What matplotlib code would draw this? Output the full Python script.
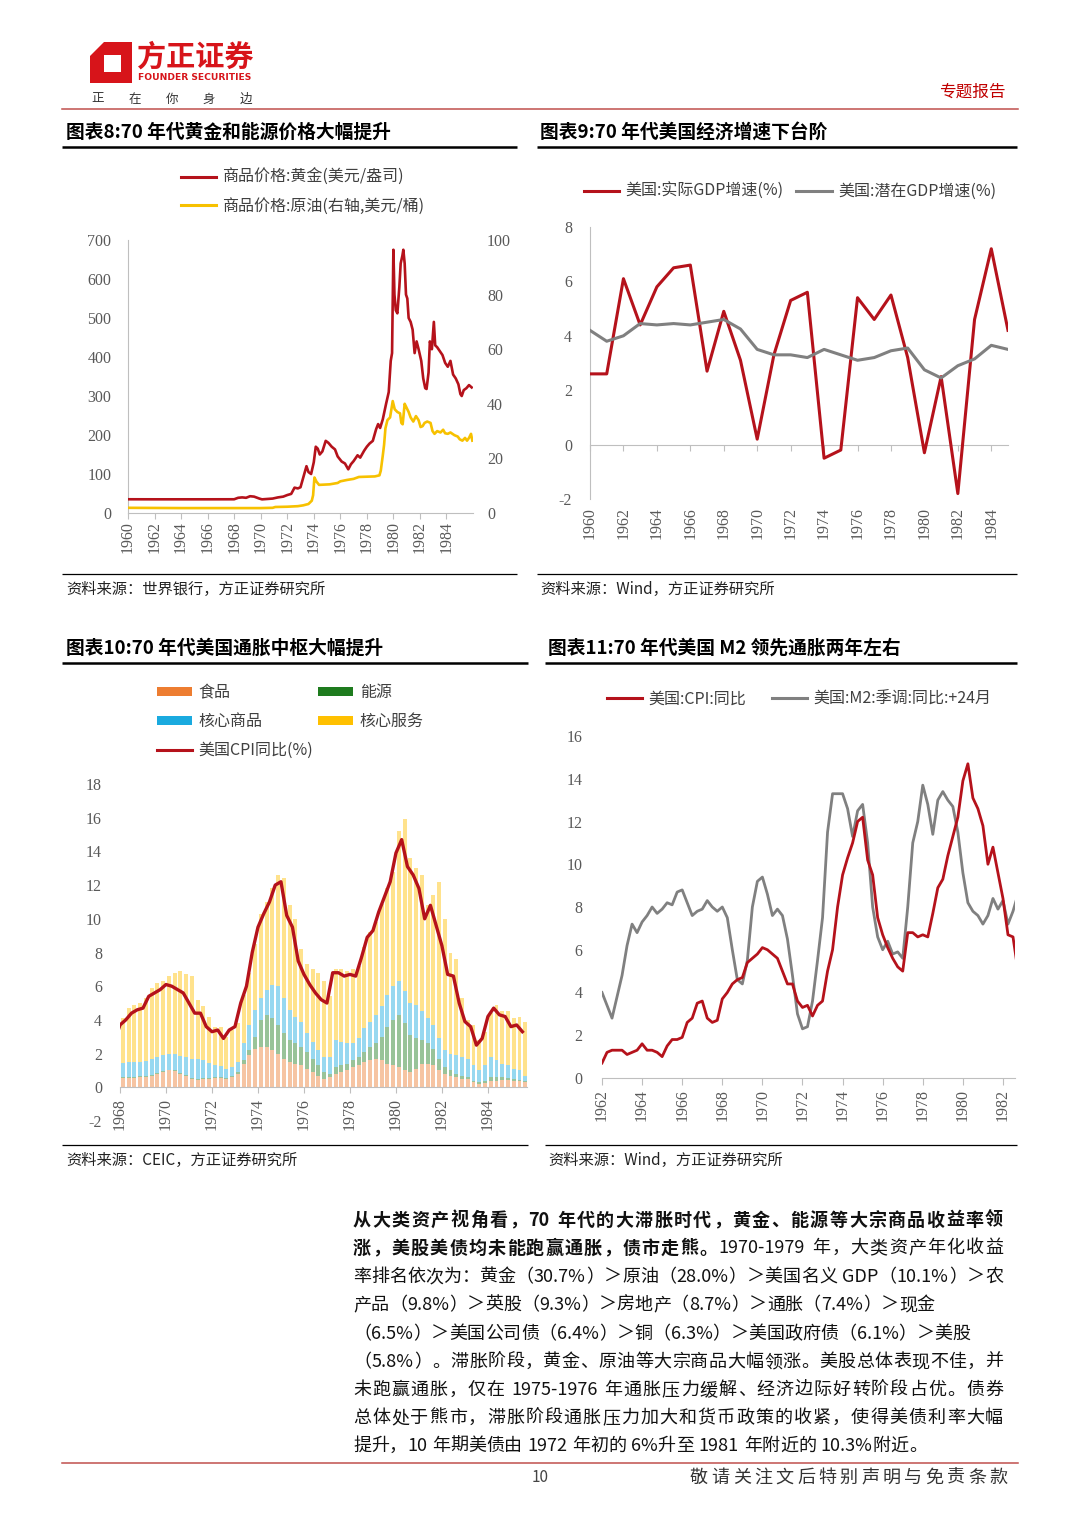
import numpy as np
import matplotlib
matplotlib.use('Agg')
import matplotlib.pyplot as plt
from matplotlib.patches import Polygon, Rectangle, Patch
from matplotlib.lines import Line2D

plt.rcParams['font.family'] = ['Noto Sans CJK SC', 'DejaVu Sans']
plt.rcParams['axes.unicode_minus'] = False

# ---------------- data ----------------
# chart 8: gold (USD/oz) and crude oil (USD/bbl), decimal years
gold_t = [1960.0, 1962.0, 1964.0, 1966.0, 1968.0, 1968.3, 1968.6, 1968.9, 1969.2, 1969.5,
          1969.9, 1970.1, 1970.5, 1970.9, 1971.3, 1971.7, 1972.0, 1972.3, 1972.55, 1972.8,
          1973.0, 1973.2, 1973.45, 1973.6, 1973.8, 1974.0, 1974.15, 1974.3, 1974.45, 1974.65,
          1974.9, 1975.1, 1975.35, 1975.6, 1975.8, 1976.1, 1976.35, 1976.6, 1976.8, 1977.0,
          1977.3, 1977.5, 1977.8, 1978.0, 1978.2, 1978.45, 1978.7, 1978.85, 1979.0, 1979.2,
          1979.45, 1979.65, 1979.8, 1979.9, 1980.0, 1980.08, 1980.18, 1980.3, 1980.45, 1980.55,
          1980.68, 1980.75, 1980.85, 1980.95, 1981.05, 1981.15, 1981.3, 1981.45, 1981.6, 1981.75,
          1981.9, 1982.1, 1982.25, 1982.4, 1982.5, 1982.65, 1982.75, 1982.9, 1983.05, 1983.15,
          1983.3, 1983.5, 1983.7, 1983.9, 1984.1, 1984.3, 1984.5, 1984.7, 1984.9, 1985.05,
          1985.15, 1985.3, 1985.5, 1985.7, 1985.9]
gold_v = [35.2, 35.1, 35.1, 35.1, 35.2, 39, 40, 39, 43, 42,
          37, 35, 36, 37, 40, 42, 46, 49, 65, 63,
          66, 90, 120, 105, 100, 130, 170, 165, 150, 158,
          185, 180, 170, 163, 145, 132, 127, 112, 125, 133,
          148, 142, 160, 170, 178, 185, 215, 228, 218, 240,
          280, 310, 390, 410, 675, 560, 520, 512, 580, 640,
          660, 675, 640, 560, 550, 500, 490, 470, 410, 440,
          420, 390, 345, 320, 318, 360, 440, 420, 490, 430,
          425, 415, 405, 385, 375, 390, 355, 345, 330, 305,
          300, 315, 320, 328, 322]
oil_t = [1960.0, 1964.0, 1968.0, 1970.0, 1970.9, 1971.1, 1972.0, 1972.8, 1973.2, 1973.6,
         1973.85, 1973.95, 1974.05, 1974.2, 1974.4, 1974.8, 1975.2, 1975.8, 1976.0, 1976.5,
         1977.0, 1977.4, 1978.0, 1978.6, 1978.95, 1979.05, 1979.2, 1979.3, 1979.4, 1979.55,
         1979.75, 1979.95, 1980.1, 1980.3, 1980.5, 1980.6, 1980.7, 1980.85, 1980.95, 1981.15,
         1981.3, 1981.5, 1981.7, 1981.9, 1982.05, 1982.2, 1982.35, 1982.55, 1982.8, 1982.95,
         1983.1, 1983.3, 1983.55, 1983.75, 1983.9, 1984.1, 1984.3, 1984.6, 1984.85, 1985.0,
         1985.2, 1985.4, 1985.55, 1985.7, 1985.85, 1985.95]
oil_v = [1.9, 1.8, 1.8, 1.8, 1.9, 2.2, 2.3, 2.5, 2.8, 3.3,
         4.5, 6.5, 13.0, 11.5, 10.3, 10.4, 10.5, 11.0, 11.6, 12.1,
         12.5, 13.2, 13.3, 13.4, 13.8, 15.5, 21, 25, 31, 34,
         35, 41, 38, 37, 36.5, 33, 32.5, 40, 39, 37,
         35, 33.5, 35.5, 34, 31.5, 31.8, 33, 33.5, 33, 30,
         29, 30, 29.5, 30.5, 29.2, 29, 29.5, 28.5, 28, 27,
         26.5, 27.5, 26.5, 27.5, 29, 26.5]

# chart 9: annual GDP growth (%)
gdp_years = list(range(1960, 1986))
gdp_real = [2.6, 2.6, 6.1, 4.4, 5.8, 6.5, 6.6, 2.7, 4.9, 3.1, 0.2, 3.3, 5.3,
            5.6, -0.5, -0.2, 5.4, 4.6, 5.5, 3.2, -0.3, 2.5, -1.8, 4.6, 7.2, 4.2]
gdp_potential = [4.2, 3.8, 4.0, 4.45, 4.4, 4.45, 4.4, 4.5, 4.6, 4.25, 3.5, 3.3, 3.3,
                 3.2, 3.5, 3.3, 3.1, 3.2, 3.45, 3.55, 2.75, 2.45, 2.9, 3.15, 3.65, 3.5]

# US CPI yoy (%), quarterly from 1962Q1
cpi_start = 1962
cpi_yoy = [0.7, 1.2, 1.3, 1.3, 1.3, 1.1, 1.2, 1.3, 1.6, 1.3, 1.3, 1.2,
           1.0, 1.5, 1.8, 1.8, 1.9, 2.6, 2.8, 3.5, 3.6, 2.8, 2.6, 2.7,
           3.7, 4.0, 4.4, 4.6, 4.7, 5.4, 5.6, 5.8, 6.1, 6.0, 5.8, 5.6,
           5.0, 4.4, 4.4, 3.6, 3.3, 3.4, 2.9, 3.4, 3.6, 5.0, 6.0, 8.0,
           9.5, 10.3, 11.0, 12.0, 12.2, 10.2, 9.5, 7.5, 6.7, 6.1, 5.6, 5.2,
           5.0, 6.8, 6.8, 6.6, 6.7, 6.6, 7.7, 8.9, 9.3, 10.4, 11.3, 12.2,
           13.9, 14.7, 13.1, 12.6, 11.8, 10.0, 10.8, 9.6, 8.4, 6.7, 6.6, 5.0,
           3.9, 3.6, 2.5, 2.9, 4.2, 4.7, 4.3, 4.2, 3.6, 3.7, 3.3]

# US M2 yoy (%), shifted +24 months, quarterly from 1962Q1
m2_yoy = [4.0, 3.4, 2.8, 3.8, 4.8, 6.2, 7.2, 6.8, 7.3, 7.6, 8.0, 7.7,
          7.9, 8.2, 8.1, 8.7, 8.8, 8.2, 7.6, 7.8, 7.9, 8.3, 8.0, 7.8,
          8.0, 7.5, 6.0, 4.6, 4.4, 5.5, 8.0, 9.2, 9.4, 8.6, 7.6, 7.9,
          7.6, 6.5, 4.8, 3.0, 2.3, 2.4, 3.6, 5.5, 7.5, 11.5, 13.3, 13.3,
          13.3, 12.6, 11.3, 12.5, 12.8, 11.0, 8.0, 6.6, 6.0, 6.4, 5.8, 5.9,
          5.6, 8.0, 11.0, 12.0, 13.7, 12.8, 11.4, 13.0, 13.4, 13.0, 12.7, 11.5,
          9.6, 8.2, 7.8, 7.6, 7.2, 7.6, 8.4, 7.9, 8.3, 7.2, 7.8, 8.6]

# chart 10: CPI contributions (ppt), quarterly from 1968Q1
comp_start = 1968
cpi_food = [0.55, 0.55, 0.55, 0.6, 0.6, 0.7, 0.8, 0.9, 1.0, 0.95, 0.8, 0.7,
            0.5, 0.45, 0.5, 0.5, 0.55, 0.55, 0.5, 0.6, 0.8, 1.4, 1.9, 2.3,
            2.4, 2.4, 2.2, 2.0, 1.7, 1.5, 1.4, 1.3, 1.1, 0.9, 0.7, 0.5,
            0.6, 0.8, 0.9, 1.0, 1.2, 1.3, 1.5, 1.6, 1.7, 1.6, 1.4, 1.3,
            1.2, 1.0, 0.9, 1.1, 1.4, 1.4, 1.3, 1.0, 0.8, 0.7, 0.6, 0.5,
            0.5, 0.3, 0.2, 0.25, 0.35, 0.4, 0.45, 0.45, 0.4, 0.35, 0.3]
cpi_energy = [0.05, 0.05, 0.05, 0.05, 0.05, 0.05, 0.05, 0.05, 0.05, 0.05, 0.05, 0.05,
              0.05, 0.05, 0.05, 0.05, 0.05, 0.05, 0.05, 0.05, 0.1, 0.2, 0.3, 0.7,
              1.6, 1.9, 1.9, 1.7, 1.5, 1.3, 1.2, 1.1, 1.0, 0.8, 0.6, 0.4,
              0.2, 0.4, 0.4, 0.4, 0.4, 0.5, 0.6, 0.8, 0.9, 1.4, 2.2, 2.7,
              3.1, 2.8, 2.2, 1.8, 1.4, 1.2, 1.0, 0.7, 0.4, 0.3, 0.2, 0.2,
              0.1, 0.1, 0.1, 0.15, 0.25, 0.2, 0.15, 0.1, 0.1, 0.1, 0.05]
cpi_core_goods = [0.85, 0.9, 0.9, 0.85, 0.9, 0.95, 0.95, 0.95, 0.95, 0.95, 1.0, 1.05,
                  1.15, 1.15, 1.05, 0.9, 0.75, 0.65, 0.55, 0.55, 0.6, 1.0, 1.5, 1.6,
                  1.3, 1.5, 2.0, 2.3, 2.1, 1.8, 1.6, 1.5, 1.1, 1.0, 0.9, 0.9,
                  1.0, 1.6, 1.4, 1.2, 1.0, 1.1, 1.4, 1.5, 1.7, 1.8, 1.9, 2.0,
                  2.0, 1.9, 1.9, 2.0, 1.7, 1.5, 1.4, 1.2, 1.0, 1.0, 1.1, 1.1,
                  1.1, 0.9, 0.7, 0.9, 1.2, 1.0, 0.8, 0.75, 0.6, 0.55, 0.35]
cpi_core_services = [2.65, 3.2, 3.4, 3.5, 3.75, 4.2, 4.4, 4.4, 4.6, 4.85, 5.05, 4.9,
                     4.9, 3.55, 3.2, 2.75, 2.25, 2.35, 1.9, 2.2, 2.3, 2.9, 3.1, 3.9,
                     5.0, 5.2, 5.7, 6.6, 7.1, 6.2, 5.8, 4.3, 4.1, 4.3, 4.6, 4.5,
                     3.6, 4.2, 4.3, 4.3, 4.4, 4.3, 4.8, 5.3, 5.5, 6.1, 6.3, 6.8,
                     8.9, 10.2, 8.6, 8.1, 8.1, 6.7, 7.7, 9.3, 7.8, 6.0, 5.7, 3.5,
                     2.3, 2.4, 1.8, 2.0, 2.6, 3.3, 3.1, 3.2, 3.0, 3.2, 3.2]

# body paragraph: (text, bold) runs per line, and whether the line is justified
body_lines = [
    ([('从大类资产视角看，70 年代的大滞胀时代，黄金、能源等大宗商品收益率领', True)], True),
    ([('涨，美股美债均未能跑赢通胀，债市走熊。', True),
      ('1970-1979 年，大类资产年化收益', False)], True),
    ([('率排名依次为：黄金（30.7%）＞原油（28.0%）＞美国名义 GDP（10.1%）＞农', False)], True),
    ([('产品（9.8%）＞英股（9.3%）＞房地产（8.7%）＞通胀（7.4%）＞现金', False)], False),
    ([('（6.5%）＞美国公司债（6.4%）＞铜（6.3%）＞美国政府债（6.1%）＞美股', False)], False),
    ([('（5.8%）。滞胀阶段，黄金、原油等大宗商品大幅领涨。美股总体表现不佳，并', False)], True),
    ([('未跑赢通胀，仅在 1975-1976 年通胀压力缓解、经济边际好转阶段占优。债券', False)], True),
    ([('总体处于熊市，滞胀阶段通胀压力加大和货币政策的收紧，使得美债利率大幅', False)], True),
    ([('提升，10 年期美债由 1972 年初的 6%升至 1981 年附近的 10.3%附近。', False)], False),
]

# ---------------- styles ----------------
RED = '#B5121B'
GRAY = '#808080'
YELLOW = '#F7C100'
AXC = '#BFBFBF'
TICKC = '#595959'
SERIF = 'Liberation Serif'
W, H = 1080, 1527

fig = plt.figure(figsize=(W / 100, H / 100), dpi=100)
page = fig.add_axes([0, 0, 1, 1], zorder=0)
page.set_xlim(0, W)
page.set_ylim(H, 0)
page.axis('off')
renderer = fig.canvas.get_renderer()


def box(x0, y0, x1, y1):
    ax = fig.add_axes([x0 / W, 1 - y1 / H, (x1 - x0) / W, (y1 - y0) / H], zorder=2)
    ax.set_facecolor('none')
    return ax


def spaced(x, y, text, step, **kw):
    for i, ch in enumerate(text):
        page.text(x + i * step, y, ch, ha='center', va='center', **kw)


def style_ticks(ax):
    for lab in ax.get_xticklabels() + ax.get_yticklabels():
        lab.set_family(SERIF)
    ax.tick_params(labelsize=11.5, labelcolor=TICKC)


def text_line(y, runs, x0, x1=None, **kw):
    # split runs into tokens: latin groups stay together, CJK chars separate
    tokens = []
    for txt, bold in runs:
        buf = ''
        for ch in txt:
            if ord(ch) < 128 and ch != ' ':
                buf += ch
            else:
                if buf:
                    tokens.append((buf, bold))
                    buf = ''
                tokens.append((ch, bold))
        if buf:
            tokens.append((buf, bold))
    objs = [page.text(0, y, t, weight='bold' if b else 'normal', va='center', **kw)
            for t, b in tokens]
    widths = []
    for o, (t, b) in zip(objs, tokens):
        w = o.get_window_extent(renderer=renderer).width
        if t == ' ':
            w = 5.0
        widths.append(w)
    gap = 0.0
    if x1 is not None and len(objs) > 1:
        gap = (x1 - x0 - sum(widths)) / (len(objs) - 1)
    x = x0
    for o, w in zip(objs, widths):
        o.set_x(x)
        x += w + gap


# ---------------- header ----------------
LOGO = '#D7141A'
page.add_patch(Polygon([(90, 56), (104, 42), (132, 42), (132, 83), (90, 83)], closed=True,
                       facecolor=LOGO, edgecolor='none'))
page.add_patch(Rectangle((104, 55), 17, 17, facecolor='white', edgecolor='none'))
page.text(137, 57, '方正证券', fontsize=21, weight='bold', color=LOGO, va='center')
page.text(138, 77.5, 'FOUNDER SECURITIES', fontsize=6.6, weight='bold', color=LOGO,
          va='center', family='DejaVu Sans')
spaced(98, 99, '正在你身边', 37, fontsize=9, color='#333333')
page.text(1006, 92, '专题报告', fontsize=12, color='#C00000', ha='right', va='center')
page.plot([62, 1018], [109, 109], color='#C0504D', lw=1.1)

# ---------------- titles, rules, sources ----------------
titles = [(66, 132, '图表8:70 年代黄金和能源价格大幅提升'),
          (540, 132, '图表9:70 年代美国经济增速下台阶'),
          (66, 648, '图表10:70 年代美国通胀中枢大幅提升'),
          (548, 648, '图表11:70 年代美国 M2 领先通胀两年左右')]
for x, y, t in titles:
    page.text(x, y, t, fontsize=13.5, weight='bold', va='center', color='black')

for x0, x1, y in [(62, 517, 147), (537, 1017, 147), (62, 528, 663), (545, 1017, 663)]:
    page.plot([x0, x1], [y, y], color='black', lw=1.8, solid_capstyle='butt')
for x0, x1, y in [(62, 517, 574), (537, 1017, 574), (62, 528, 1145), (545, 1017, 1145)]:
    page.plot([x0, x1], [y, y], color='black', lw=0.9, solid_capstyle='butt')

sources = [(66, 589, '资料来源：世界银行，方正证券研究所'),
           (540, 589, '资料来源：Wind，方正证券研究所'),
           (66, 1160, '资料来源：CEIC，方正证券研究所'),
           (548, 1160, '资料来源：Wind，方正证券研究所')]
for x, y, t in sources:
    page.text(x, y, t, fontsize=11, va='center', color='#222222')

LEGKW = dict(frameon=False, fontsize=11.5, borderpad=0, borderaxespad=0,
             handletextpad=0.4, bbox_transform=page.transData, loc='upper left',
             labelcolor='#404040')

# ---------------- chart 8 ----------------
ax8 = box(128, 240, 473, 513)
ax8.plot(gold_t, gold_v, color=RED, lw=1.9, zorder=3)
ax8.set_xlim(1960, 1986)
ax8.set_ylim(0, 700)
ax8.set_xticks(range(1960, 1986, 2))
ax8.set_xticklabels([str(y) for y in range(1960, 1986, 2)], rotation=90)
ax8.set_yticks(range(0, 701, 100))
for s in ['top', 'right']:
    ax8.spines[s].set_visible(False)
for s in ['left', 'bottom']:
    ax8.spines[s].set_color(AXC)
ax8.tick_params(axis='x', length=4, width=0.8, pad=2, color=AXC)
ax8.tick_params(axis='y', length=0, pad=12)
style_ticks(ax8)
ax8r = ax8.twinx()
ax8r.set_facecolor('none')
ax8r.plot(oil_t, oil_v, color=YELLOW, lw=1.9)
ax8r.set_ylim(0, 100)
ax8r.set_yticks(range(0, 101, 20))
for s in ax8r.spines.values():
    s.set_visible(False)
ax8r.tick_params(axis='y', length=0, pad=10)
style_ticks(ax8r)
fig.legend([Line2D([], [], color=RED, lw=2.2), Line2D([], [], color=YELLOW, lw=2.2)],
           ['商品价格:黄金(美元/盎司)', '商品价格:原油(右轴,美元/桶)'],
           bbox_to_anchor=(181, 169), ncol=1, handlelength=2.2, labelspacing=0.75, **LEGKW)

# ---------------- chart 9 ----------------
ax9 = box(590, 227, 1008, 499)
ax9.plot(gdp_years, gdp_real, color=RED, lw=2.2, zorder=3)
ax9.plot(gdp_years, gdp_potential, color=GRAY, lw=2.2, zorder=4)
ax9.set_xlim(1960, 1985)
ax9.set_ylim(-2, 8)
ax9.set_xticks(range(1960, 1986, 2))
ax9.set_xticklabels([str(y) for y in range(1960, 1986, 2)], rotation=90)
ax9.set_yticks(range(-2, 9, 2))
for s in ['top', 'right', 'bottom']:
    ax9.spines[s].set_visible(False)
ax9.spines['left'].set_color(AXC)
ax9.tick_params(axis='x', length=0, pad=6)
ax9.tick_params(axis='y', length=0, pad=13)
style_ticks(ax9)
zero9 = ax9.secondary_xaxis(0.2)
zero9.set_xticks(range(1960, 1986, 2))
zero9.set_xticklabels([])
zero9.tick_params(length=4, width=0.8, color=AXC)
zero9.spines['bottom'].set_color(AXC)
fig.legend([Line2D([], [], color=RED, lw=2.2), Line2D([], [], color=GRAY, lw=2.2)],
           ['美国:实际GDP增速(%)', '美国:潜在GDP增速(%)'],
           bbox_to_anchor=(584, 183), ncol=2, handlelength=2.2, columnspacing=0.8, **LEGKW)

# ---------------- chart 10 ----------------
ax10 = box(120, 784, 527, 1121)
for s in ['top', 'right', 'left']:
    ax10.spines[s].set_visible(False)
ax10.spines['bottom'].set_position(('data', 0))
ax10.spines['bottom'].set_color(AXC)
comp_t = comp_start + np.arange(len(cpi_food)) / 4 + 0.125
comp_colors = ['#ED7D31', '#1E7B1E', '#1AAADF', '#FFC000']
bottom = np.zeros(len(cpi_food))
for vals, c in zip([cpi_food, cpi_energy, cpi_core_goods, cpi_core_services], comp_colors):
    ax10.bar(comp_t, vals, width=0.17, bottom=bottom, color=c, alpha=0.45, linewidth=0, zorder=2)
    bottom = bottom + np.array(vals)
cpi_t = cpi_start + np.arange(len(cpi_yoy)) / 4
ax10.plot(cpi_t, cpi_yoy, color=RED, lw=2.4, zorder=4)
ax10.set_xlim(1968, 1985.7)
ax10.set_ylim(-2, 18)
ax10.set_xticks(range(1968, 1986, 2))
ax10.set_xticklabels([str(y) for y in range(1968, 1986, 2)], rotation=90)
ax10.set_yticks(range(-2, 19, 2))
ax10.tick_params(axis='x', length=4, width=0.8, pad=4, color=AXC)
ax10.tick_params(axis='y', length=0, pad=13)
style_ticks(ax10)
h10 = [Patch(facecolor=comp_colors[0]), Patch(facecolor=comp_colors[2]),
       Line2D([], [], color=RED, lw=2.2), Patch(facecolor=comp_colors[1]),
       Patch(facecolor=comp_colors[3])]
l10 = ['食品', '核心商品', '美国CPI同比(%)', '能源', '核心服务']
fig.legend(h10, l10, bbox_to_anchor=(157, 684), ncol=2, handlelength=2.2, handleheight=0.55,
           labelspacing=0.75, columnspacing=0.3, **LEGKW)

# ---------------- chart 11 ----------------
ax11 = box(602, 736, 1015, 1078)
m2_t = cpi_start + np.arange(len(m2_yoy)) / 4
ax11.plot(m2_t, m2_yoy, color=GRAY, lw=2.0, zorder=3)
ax11.plot(cpi_t, cpi_yoy, color=RED, lw=2.0, zorder=4)
ax11.set_xlim(1962, 1982.6)
ax11.set_ylim(0, 16)
ax11.set_xticks(range(1962, 1983, 2))
ax11.set_xticklabels([str(y) for y in range(1962, 1983, 2)], rotation=90)
ax11.set_yticks(range(0, 17, 2))
for s in ['top', 'right', 'left']:
    ax11.spines[s].set_visible(False)
ax11.spines['bottom'].set_color(AXC)
ax11.tick_params(axis='x', length=5, width=0.8, pad=3, color=AXC)
ax11.tick_params(axis='y', length=0, pad=14)
style_ticks(ax11)
fig.legend([Line2D([], [], color=RED, lw=2.2), Line2D([], [], color=GRAY, lw=2.2)],
           ['美国:CPI:同比', '美国:M2:季调:同比:+24月'],
           bbox_to_anchor=(607, 691), ncol=2, handlelength=2.2, columnspacing=1.6, **LEGKW)

# ---------------- body text ----------------
ys = [1220, 1248, 1277, 1305, 1334, 1362, 1390, 1418, 1446]
for y, (runs, just) in zip(ys, body_lines):
    text_line(y, runs, 353, 1003 if just else None, fontsize=13, color='#111111')

# ---------------- footer ----------------
page.plot([62, 1018], [1463, 1463], color='#C0504D', lw=1.1)
page.text(540, 1478, '10', fontsize=11, ha='center', va='center', color='#444444')
spaced(699, 1478, '敬请关注文后特别声明与免责条款', 21.4, fontsize=13, color='#333333')

fig.savefig('out.png', dpi=100)
